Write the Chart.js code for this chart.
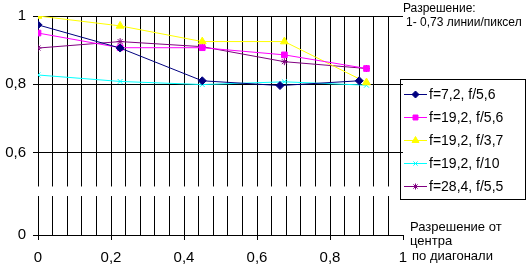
<!DOCTYPE html>
<html>
<head>
<meta charset="utf-8">
<script src="https://cdn.jsdelivr.net/npm/chart.js@4/dist/chart.umd.min.js"></script>
<style>
html,body{margin:0;padding:0;background:#fff;}
#wrap{width:530px;height:271px;position:relative;}
</style>
</head>
<body>
<div id="wrap"><canvas id="c" width="530" height="271"></canvas></div>
<script>
// ---- data ----
const seriesNames = ['f=7,2, f/5,6', 'f=19,2, f/5,6', 'f=19,2, f/3,7', 'f=19,2, f/10', 'f=28,4, f/5,5'];
const xPos     = [0, 0.225, 0.45, 0.675, 0.9];
const xPosF72  = [0, 0.225, 0.45, 0.663, 0.88];
const f72_56   = [0.974, 0.906, 0.810, 0.796, 0.810];
const f192_56  = [0.950, 0.907, 0.907, 0.886, 0.846];
const f192_37  = [1.000, 0.971, 0.925, 0.925, 0.805];
const f192_10  = [0.827, 0.808, 0.799, 0.807, 0.797];
const f284_55  = [0.906, 0.925, 0.910, 0.866, 0.846];
const yTickValues = [0.6, 0.8, 1];
const xMajorStep = 0.2;
const topNote = ['Разрешение:', '1- 0,73 линии/пиксел'];
const xTitle = ['Разрешение от', 'центра', 'по диагонали'];

// axis break: the part below 0.6 is compressed, bottom of the plot is labelled 0
const Y_BOTTOM = 0.3577;

const colors  = ['#000080', '#ff00ff', '#ffff00', '#00ffff', '#800080'];
const styles  = ['rectRot', 'rect', 'triangle', 'crossRot', 'star'];
const radii   = [4, 4, 4.5, 3.5, 3.5];
const xs = [xPosF72, xPos, xPos, xPos, xPos];
const ys = [f72_56, f192_56, f192_37, f192_10, f284_55];

const datasets = ys.map((vals, i) => ({
  label: seriesNames[i],
  data: vals.map((v, j) => ({x: xs[i][j], y: v})),
  showLine: true,
  borderColor: colors[i],
  backgroundColor: colors[i],
  borderWidth: 1,
  pointStyle: styles[i],
  pointRadius: radii[i],
  pointBorderColor: colors[i],
  pointBackgroundColor: colors[i],
  pointBorderWidth: 1,
  tension: 0
}));

const fmt = v => String(Math.round(v * 100) / 100).replace('.', ',');
const isMajor = v => Math.abs(v / xMajorStep - Math.round(v / xMajorStep)) < 1e-6;

const decor = {
  id: 'decor',
  beforeDatasetsDraw(chart) {
    const ctx = chart.ctx, a = chart.chartArea;
    const y = chart.scales.y;
    const y1 = y.getPixelForValue(0.50), y2 = y.getPixelForValue(0.472);
    ctx.save();
    ctx.fillStyle = '#fff';
    ctx.fillRect(a.left - 8, y1, a.right - a.left + 10, y2 - y1);
    ctx.restore();
  },
  afterDraw(chart) {
    const ctx = chart.ctx, a = chart.chartArea;
    ctx.save();
    ctx.fillStyle = '#000';
    ctx.textBaseline = 'middle';
    ctx.textAlign = 'left';
    ctx.font = '12px "Liberation Sans", Arial, sans-serif';
    ctx.fillText(topNote[0], 403, 9);
    ctx.fillText(topNote[1], 406, 23);
    ctx.font = '13px "Liberation Sans", Arial, sans-serif';
    ctx.fillText(xTitle[0], 410, 227);
    ctx.fillText(xTitle[1], 410, 241);
    ctx.fillText(xTitle[2], 412, 256);

    // legend
    const lx = 400.5, ly = 79.5, lw = 125, lh = 120;
    ctx.strokeStyle = '#000';
    ctx.lineWidth = 1;
    ctx.strokeRect(lx, ly, lw, lh);
    ctx.font = '14px "Liberation Sans", Arial, sans-serif';
    chart.data.datasets.forEach((ds, i) => {
      const cy = 94 + i * 23;
      ctx.strokeStyle = ds.borderColor;
      ctx.beginPath();
      ctx.moveTo(404, cy + 0.5);
      ctx.lineTo(427, cy + 0.5);
      ctx.stroke();
      if (Chart.helpers && Chart.helpers.drawPoint) {
        ctx.fillStyle = ds.pointBackgroundColor;
        ctx.strokeStyle = ds.pointBorderColor;
        Chart.helpers.drawPoint(ctx, {pointStyle: ds.pointStyle, radius: ds.pointRadius - 0.5, borderWidth: 1, rotation: 0}, 415.5, cy + 0.5);
      }
      ctx.fillStyle = '#000';
      ctx.fillText(ds.label, 429, cy + 1);
    });
    ctx.restore();
  }
};

new Chart(document.getElementById('c'), {
  type: 'scatter',
  data: {datasets},
  plugins: [decor],
  options: {
    responsive: false,
    animation: false,
    devicePixelRatio: 1,
    layout: {padding: {top: 15, right: 127, left: 0, bottom: 0}},
    plugins: {legend: {display: false}, tooltip: {enabled: false}},
    scales: {
      x: {
        type: 'linear', min: 0, max: 1,
        afterFit(s) { s.height = 36; },
        ticks: {
          stepSize: 0.04, autoSkip: false, maxRotation: 0, padding: 9,
          color: '#000',
          font: {family: '"Liberation Sans", Arial, sans-serif', size: 15},
          callback: v => isMajor(v) ? fmt(v) : ''
        },
        grid: {
          color: c => (c.tick && Math.abs(c.tick.value - 1) < 1e-6) ? 'rgba(0,0,0,0)' : '#000',
          tickColor: c => (c.tick && isMajor(c.tick.value)) ? '#000' : 'rgba(0,0,0,0)',
          tickLength: 5, lineWidth: 1
        },
        border: {color: '#000', width: 1}
      },
      y: {
        type: 'linear', min: Y_BOTTOM, max: 1,
        afterFit(s) { s.width = 38; },
        afterBuildTicks(s) { s.ticks = [Y_BOTTOM].concat(yTickValues).map(v => ({value: v})); },
        ticks: {
          padding: 7, color: '#000',
          font: {family: '"Liberation Sans", Arial, sans-serif', size: 15},
          callback: v => (Math.abs(v - Y_BOTTOM) < 1e-6 ? '0' : fmt(v))
        },
        grid: {color: '#000', tickColor: '#000', tickLength: 5, lineWidth: 1},
        border: {color: '#000', width: 1}
      }
    }
  }
});
</script>
</body>
</html>
